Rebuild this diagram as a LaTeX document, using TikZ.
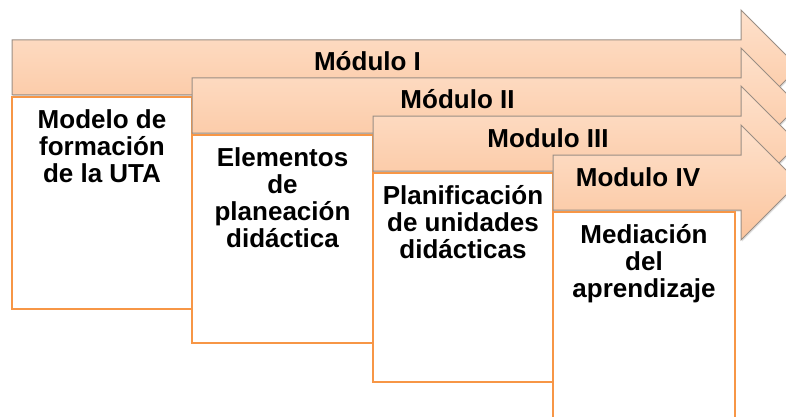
\documentclass[tikz,border=0pt]{standalone}
\usepackage{fontspec}
\setmainfont{Liberation Sans}
\usetikzlibrary{shadows}
\definecolor{peachtop}{HTML}{FEE1CC}
\definecolor{peachbot}{HTML}{FBC59E}
\definecolor{arrline}{HTML}{9A8E84}
\definecolor{boxline}{HTML}{F79646}
\tikzset{
  modarrow/.style={draw=arrline,line width=1pt,top color=peachtop,bottom color=peachbot,
    drop shadow={opacity=0.25,shadow xshift=1pt,shadow yshift=-1.5pt}},
  modbox/.style={draw=boxline,line width=1.5pt,fill=white},
  modlabel/.style={font=\bfseries\fontsize{26}{27}\selectfont,anchor=base,inner sep=0pt},
  boxtext/.style={font=\bfseries\fontsize{26}{27}\selectfont,align=center,anchor=north,
    inner sep=0pt,execute at begin node={\rule{0pt}{23pt}}}
}
\begin{document}
\begin{tikzpicture}
      [x=1pt,y=-1pt]
      \useasboundingbox (0,0) rectangle (786,417);
      \clip (0,0) rectangle (786,417);
      \foreach \n/\xl/\xr/\ty/\yb/\lbl/\txt in {
        1/12/192/40/309/{Módulo I}/{Modelo de\\formación\\de la UTA},
        2/192/373/78/343/{Módulo II}/{Elementos\\de\\planeación\\didáctica},
        3/373/553/116/382/{Modulo III}/{Planificación\\de unidades\\didácticas},
        4/553/735/155/440/{Modulo IV}/{Mediación\\del\\aprendizaje}} {
        \draw[modarrow] (\xl,\ty) -- (741,\ty) -- (741,\ty-30) -- (798.5,\ty+27.5)
          -- (741,\ty+85) -- (741,\ty+55) -- (\xl,\ty+55) -- cycle;
        \node[modlabel] (mod\n) at ({(\xl+723)/2},\ty+31) {\lbl};
        \draw[modbox] (\xl,\ty+57) rectangle (\xr,\yb);
        \node[boxtext] (cont\n) at ({(\xl+\xr)/2},\ty+69) {\txt};
      }
    \end{tikzpicture}
\end{document}
